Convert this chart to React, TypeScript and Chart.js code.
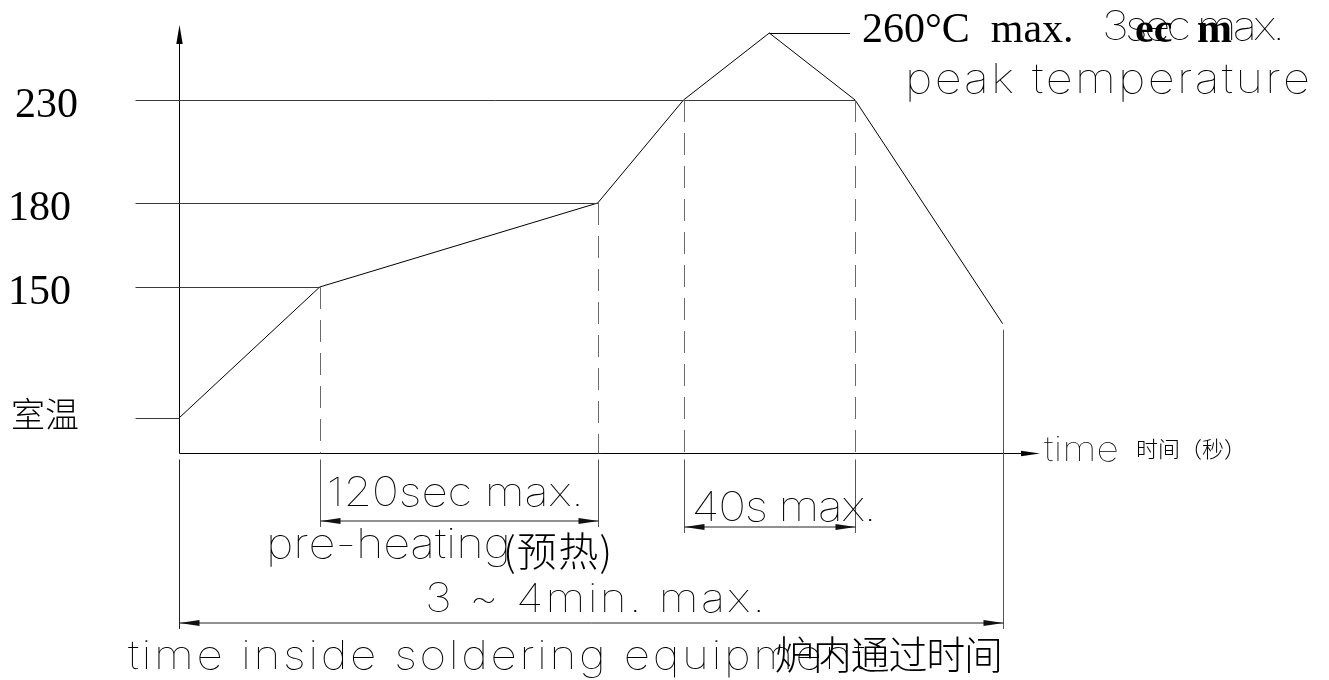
import React, { useEffect, useRef } from "react";
import { Chart, registerables, LinearScale } from "chart.js";

// ---- data (schematic reflow profile) ----
const profileTime = [0, 41, 122, 147, 172, 197, 240]; // seconds
const profileTemp = [25, 150, 180, 230, 260, 230, 115]; // °C
const levelTemps = [25, 150, 180, 230];
const levelLabels = ["室温", "150", "180", "230"];
const preheatWindow = [41, 122];
const peakWindow = [147, 197];
const totalWindow = [0, 240];

// schematic (not-to-scale) temperature axis: break values and relative spacing
const yBreaks = [0, 25, 150, 180, 230, 260, 270];
const yBreakSpacing = [35, 131, 84, 103, 67, 8];

function cumSpacing() {
  const cum = [0];
  yBreakSpacing.forEach((g) => cum.push(cum[cum.length - 1] + g));
  return cum;
}
function schematicFrac(v: number) {
  const cum = cumSpacing();
  const total = cum[cum.length - 1];
  if (v <= yBreaks[0]) return 0;
  for (let i = 0; i < yBreaks.length - 1; i++) {
    if (v <= yBreaks[i + 1]) {
      const t = (v - yBreaks[i]) / (yBreaks[i + 1] - yBreaks[i]);
      return (cum[i] + t * yBreakSpacing[i]) / total;
    }
  }
  return 1;
}
function schematicInv(f: number) {
  const cum = cumSpacing();
  const total = cum[cum.length - 1];
  const p = f * total;
  for (let i = 0; i < yBreakSpacing.length; i++) {
    if (p <= cum[i + 1]) {
      const t = (p - cum[i]) / yBreakSpacing[i];
      return yBreaks[i] + t * (yBreaks[i + 1] - yBreaks[i]);
    }
  }
  return yBreaks[yBreaks.length - 1];
}

class SchematicScale extends (LinearScale as any) {
  static id = "schematic";
  getPixelForValue(value: number) {
    return (this as any).getPixelForDecimal(schematicFrac(value));
  }
  getValueForPixel(pixel: number) {
    return schematicInv((this as any).getDecimalForPixel(pixel));
  }
}

Chart.register(...registerables, SchematicScale as any);

const SERIF = '"Liberation Serif", "Times New Roman", serif';
const CJK = '"Noto Sans CJK SC", "Noto Sans CJK JP", sans-serif';
const THIN = (s: number) => `100 ${s}px Inter, "Noto Sans", sans-serif`;
const WIDE = 1.15;

function drawFit(
  ctx: CanvasRenderingContext2D,
  text: string,
  x: number,
  y: number,
  width: number,
  font: string,
  sx = 1
) {
  ctx.font = font;
  const chars = Array.from(text);
  const ws = chars.map((ch) => ctx.measureText(ch).width * sx);
  const sum = ws.reduce((a, b) => a + b, 0);
  const extra = chars.length > 1 ? (width - sum) / (chars.length - 1) : 0;
  let cx = x;
  chars.forEach((ch, i) => {
    ctx.save();
    ctx.translate(cx, y);
    ctx.scale(sx, 1);
    ctx.fillText(ch, 0, 0);
    ctx.restore();
    cx += ws[i] + extra;
  });
}

const drawingPlugin = {
  id: "drawing",
  afterDatasetsDraw(chart: any) {
    const ctx: CanvasRenderingContext2D = chart.ctx;
    const xs = chart.scales.x;
    const ys = chart.scales.y;
    const X = (t: number) => xs.getPixelForValue(t);
    const Y = (v: number) => ys.getPixelForValue(v);
    const c = (v: number) => Math.round(v) + 0.5;
    const tempAt = (t: number) => profileTemp[profileTime.indexOf(t)];

    const x0 = c(X(0));
    const yAx = c(Y(0));
    const top = chart.chartArea.top;
    const right = chart.chartArea.right + 3;

    ctx.save();
    ctx.lineWidth = 1;
    const line = (x1: number, y1: number, x2: number, y2: number, color: string, dash: number[] = []) => {
      ctx.strokeStyle = color;
      ctx.setLineDash(dash);
      ctx.beginPath();
      ctx.moveTo(x1, y1);
      ctx.lineTo(x2, y2);
      ctx.stroke();
      ctx.setLineDash([]);
    };
    const arrow = (tx: number, ty: number, dx: number, dy: number, len = 20, half = 3, color = "#000") => {
      ctx.fillStyle = color;
      const bx = tx - dx * len;
      const by = ty - dy * len;
      ctx.beginPath();
      ctx.moveTo(tx, ty);
      ctx.lineTo(bx - dy * half, by + dx * half);
      ctx.lineTo(bx + dy * half, by - dx * half);
      ctx.closePath();
      ctx.fill();
    };

    // axes
    line(x0, yAx, x0, top + 16, "#000");
    arrow(x0, top, 0, -1, 19, 3.2);
    line(x0, yAx, right - 16, yAx, "#000");
    arrow(right, yAx, 1, 0, 19, 2.8);

    // level lines and labels
    levelTemps.forEach((temp, i) => {
      const idx = profileTemp.lastIndexOf(temp);
      const y = c(Y(temp));
      line(x0 - 44, y, c(X(profileTime[idx])), y, "#3a3a3a");
      const lab = levelLabels[i];
      ctx.fillStyle = "#000";
      if (/^\d/.test(lab)) {
        ctx.font = `42px ${SERIF}`;
        ctx.fillText(lab, lab.startsWith("1") ? 8 : 15, y + 16);
      } else {
        ctx.font = `300 34px ${CJK}`;
        ctx.fillText(lab, 11, y + 8);
      }
    });

    // dashed verticals
    [...preheatWindow, ...peakWindow].forEach((t) => {
      line(c(X(t)), Y(tempAt(t)), c(X(t)), yAx, "#6a6a6a", [22, 11]);
    });

    // dimension extension lines
    const dim1 = yAx + 67.5;
    const dim2 = yAx + 73.5;
    const dim3 = yAx + 169.5;
    line(x0, yAx + 6, x0, dim3 + 6, "#222");
    preheatWindow.forEach((t) => line(c(X(t)), yAx + 6, c(X(t)), dim1 + 6, "#555"));
    peakWindow.forEach((t) => line(c(X(t)), yAx + 6, c(X(t)), dim2 + 6, "#555"));
    const tEnd = totalWindow[1];
    line(c(X(tEnd)), Y(tempAt(tEnd)) + 6, c(X(tEnd)), dim3 + 6, "#555");

    // dimension lines
    const dimLine = (a: number, b: number, y: number) => {
      line(a, y, b, y, "#222");
      arrow(a, y, -1, 0, 20, 3, "#111");
      arrow(b, y, 1, 0, 20, 3, "#111");
    };
    dimLine(c(X(preheatWindow[0])), c(X(preheatWindow[1])), dim1);
    dimLine(c(X(peakWindow[0])), c(X(peakWindow[1])), dim2);
    dimLine(c(X(totalWindow[0])), c(X(totalWindow[1])), dim3);

    // peak leader
    const peakTemp = Math.max(...profileTemp);
    const peakT = profileTime[profileTemp.indexOf(peakTemp)];
    line(X(peakT), c(Y(peakTemp)), 850, c(Y(peakTemp)), "#000");

    // texts
    ctx.fillStyle = "#000";
    const p0 = X(preheatWindow[0]);
    const p1 = X(preheatWindow[1]);
    drawFit(ctx, "120sec max.", p0 + 7, dim1 - 15, p1 - 14 - (p0 + 7), THIN(40), WIDE);
    drawFit(ctx, "pre-heating", 266, 558, 245, THIN(41), WIDE);
    drawFit(ctx, "(预热)", 503, 566, 109, `300 40px ${CJK}`);
    drawFit(ctx, "40s max.", X(peakWindow[0]) + 8, dim2 - 6, 185, THIN(41), WIDE);
    drawFit(ctx, "3 ~ 4min. max.", 425, dim3 - 11, 340, THIN(40), WIDE);
    drawFit(ctx, "time inside soldering equipment", 128, 669, 737, THIN(40), WIDE);
    drawFit(ctx, "炉内通过时间", 775, 669, 228, `300 39px ${CJK}`);
    drawFit(ctx, "time", right + 4, yAx + 7, 75, THIN(34), WIDE);
    ctx.font = `300 22px ${CJK}`;
    ctx.fillText("时间（秒）", 1136, yAx + 3);

    ctx.font = `42px ${SERIF}`;
    ctx.fillText("260°C  max.", 862, 42);
    drawFit(ctx, "3sec max.", 1102, 40, 183, THIN(40), WIDE);
    ctx.font = `bold 42px ${SERIF}`;
    ctx.fillText("ec", 1135, 42);
    ctx.fillText("m", 1197, 42);
    drawFit(ctx, "peak temperature", 905, 93, 405, THIN(41), WIDE);

    ctx.restore();
  },
};

export default function App() {
  const ref = useRef<HTMLCanvasElement>(null);
  useEffect(() => {
    const canvas = ref.current!;
    const chart = new Chart(canvas, {
      type: "line",
      data: {
        datasets: [
          {
            data: profileTime.map((t, i) => ({ x: t, y: profileTemp[i] })),
            borderColor: "#000",
            borderWidth: 1,
            pointRadius: 0,
            tension: 0,
            fill: false,
          },
        ],
      },
      options: {
        animation: false,
        responsive: false,
        devicePixelRatio: 1,
        events: [],
        layout: { padding: { left: 179, right: 292, top: 25, bottom: 227 } },
        plugins: { legend: { display: false }, tooltip: { enabled: false } },
        scales: {
          x: { type: "linear", min: 0, max: 250, display: false },
          y: { type: "schematic" as any, min: 0, max: 270, display: false },
        },
      } as any,
      plugins: [drawingPlugin],
    });
    return () => chart.destroy();
  }, []);
  return (
    <div style={{ position: "absolute", left: 0, top: 0, width: 1329, height: 680, background: "#fff" }}>
      <canvas ref={ref} width={1329} height={680} style={{ display: "block" }} />
    </div>
  );
}
